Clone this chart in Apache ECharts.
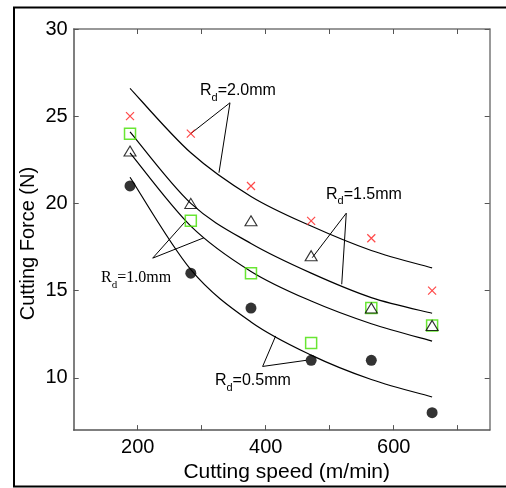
<!DOCTYPE html>
<html><head><meta charset="utf-8">
<script src="https://cdn.jsdelivr.net/npm/echarts@6/dist/echarts.min.js"></script>
<style>html,body{margin:0;padding:0;background:#fff}#c{width:506px;height:488px}</style>
</head><body><div id="c"></div>
<script>
// ---- data ----
const speeds = [188, 283, 377, 471, 565, 660];
// measured cutting forces (N)
const rd20 = [25, 24, 21, 19, 18, 15];   // red crosses
const rd15 = [23, 20, 19, 17, 14, 13];   // triangles
const rd10 = [24, 19, 16, 12, 14, 13];   // green squares
const rd05 = [21, 16, 14, 11, 11, 8];    // black dots
// fitted curves at the same speeds
const fit20 = [26.6, 22.9, 20.4, 18.7, 17.3, 16.3];
const fit15 = [24.1, 20.0, 17.7, 16.0, 14.6, 13.7];
const fit10 = [22.9, 18.7, 16.1, 14.4, 13.1, 12.1];
const fit05 = [21.5, 16.2, 13.2, 11.3, 9.9, 8.9];
// axis ticks
const xTicks = [200, 300, 400, 500, 600, 700];
const xLabels = [200, 400, 600];
const yTicks = [10, 15, 20, 25, 30];
// annotation leader lines (data coordinates: end, apex, end)
const lead20 = [[282.8, 24.0], [344.2, 25.77], [327.0, 21.76]];
const lead15 = [[472.8, 16.89], [525.9, 19.44], [518.8, 15.36]];
const lead10 = [[273.9, 18.94], [223.4, 16.86], [303.6, 18.03]];
const lead05 = [[415.6, 12.40], [395.2, 10.65], [463.0, 11.0]];
// annotation labels (anchor = left baseline, data coordinates)
const notes = [
  {value: '=2.0mm', at: [297.3, 26.14], family: 'Liberation Sans'},
  {value: '=1.5mm', at: [494.2, 20.21], family: 'Liberation Sans'},
  {value: '=1.0mm', at: [142.7, 15.41], family: 'Liberation Serif'},
  {value: '=0.5mm', at: [320.7, 9.51], family: 'Liberation Sans'}
];

const SANS = 'Liberation Sans';
const pair = (xs, ys) => xs.map((x, i) => [x, ys[i]]);
const chart = echarts.init(document.getElementById('c'), null, {renderer: 'canvas'});

const axisCol = '#555';
function xAx(pos, primary) {
  return {
    type: 'value', min: 100, max: 750, position: pos,
    axisLine: {onZero: false, lineStyle: {color: primary ? axisCol : '#777', width: 1.5}},
    axisTick: {show: true, inside: true, length: 5, customValues: xTicks, lineStyle: {color: axisCol, width: 1}},
    axisLabel: primary ? {customValues: xLabels, color: '#000', fontSize: 20, fontFamily: SANS, margin: 7} : {show: false},
    splitLine: {show: false},
    name: primary ? 'Cutting speed (m/min)' : '',
    nameLocation: 'middle', nameGap: 28,
    nameTextStyle: {color: '#000', fontSize: 21, fontFamily: SANS, padding: [0, 0, 0, 10]}
  };
}
function yAx(pos, primary) {
  return {
    type: 'value', min: 7, max: 30, position: pos,
    axisLine: {onZero: false, lineStyle: {color: primary ? axisCol : '#777', width: 1.5}},
    axisTick: {show: true, inside: true, length: 5, customValues: yTicks, lineStyle: {color: axisCol, width: 1}},
    axisLabel: primary ? {customValues: yTicks, color: '#000', fontSize: 20, fontFamily: SANS, margin: 6} : {show: false},
    splitLine: {show: false},
    name: primary ? 'Cutting Force (N)' : '',
    nameLocation: 'middle', nameGap: 35, nameMoveOverlap: false,
    nameTextStyle: {color: '#000', fontSize: 20, fontFamily: SANS, padding: [0, 28, 0, 0]}
  };
}
// fitted curve drawn as a smooth spline through the read points, via the axes' scales
function fitCurve(vals) {
  const pts = pair(speeds, vals);
  return {
    type: 'custom', coordinateSystem: 'cartesian2d', xAxisIndex: 0, yAxisIndex: 0,
    data: pts, encode: {x: 0, y: 1}, silent: true, z: 2,
    renderItem: function (params, api) {
      if (params.dataIndex !== 0) return null;
      const P = pts.map(p => api.coord(p));
      let d = 'M' + P[0][0] + ',' + P[0][1];
      for (let i = 0; i < P.length - 1; i++) {
        const p0 = P[Math.max(i - 1, 0)], p1 = P[i], p2 = P[i + 1], p3 = P[Math.min(i + 2, P.length - 1)];
        const c1 = [p1[0] + (p2[0] - p0[0]) / 6, p1[1] + (p2[1] - p0[1]) / 6];
        const c2 = [p2[0] - (p3[0] - p1[0]) / 6, p2[1] - (p3[1] - p1[1]) / 6];
        d += ' C' + c1[0] + ',' + c1[1] + ' ' + c2[0] + ',' + c2[1] + ' ' + p2[0] + ',' + p2[1];
      }
      return {type: 'path', shape: {pathData: d}, style: {stroke: '#000', fill: 'none', lineWidth: 1.2}};
    }
  };
}
const leadLine = (d) => ({
  type: 'line', data: d, showSymbol: false, symbol: 'none', smooth: false,
  lineStyle: {color: '#000', width: 1}, z: 2, silent: true
});

chart.setOption({
  animation: false,
  backgroundColor: '#fff',
  grid: {left: 73.7, top: 29, right: 16.3, bottom: 51.6, containLabel: false},
  xAxis: [xAx('bottom', true), xAx('top', false)],
  yAxis: [yAx('left', true), yAx('right', false)],
  series: [
    fitCurve(fit20), fitCurve(fit15), fitCurve(fit10), fitCurve(fit05),
    leadLine(lead20), leadLine(lead15), leadLine(lead10), leadLine(lead05),
    {type: 'scatter', data: pair(speeds, rd10), symbol: 'rect', symbolSize: 11,
     itemStyle: {color: 'rgba(0,0,0,0)', borderColor: '#44e000', borderWidth: 1.5}, z: 3},
    {type: 'scatter', data: pair(speeds, rd15), symbol: 'triangle', symbolSize: [12, 10],
     itemStyle: {color: 'rgba(0,0,0,0)', borderColor: '#000', borderWidth: 1.1}, z: 4},
    {type: 'scatter', data: pair(speeds, rd20), symbol: 'path://M0,0L10,10M10,0L0,10', symbolSize: 8,
     itemStyle: {color: 'rgba(0,0,0,0)', borderColor: '#ff1a1a', borderWidth: 1.2}, z: 4},
    {type: 'scatter', data: pair(speeds, rd05), symbol: 'circle', symbolSize: 11,
     itemStyle: {color: '#000'}, z: 4}
  ]
});

// annotation labels with subscript d
const ctx = document.createElement('canvas').getContext('2d');
function tw(t, size, fam) { ctx.font = size + 'px "' + fam + '"'; return ctx.measureText(t).width; }
const MAIN = 16, SUB = 11;
const elems = [{
  type: 'rect', shape: {x: 14, y: 7.5, width: 600, height: 479},
  style: {fill: 'none', stroke: '#000', lineWidth: 2}, silent: true, z: 100
}];
notes.forEach(n => {
  const p = chart.convertToPixel({gridIndex: 0}, n.at);
  const bx = p[0], by = p[1];
  const midMain = by - 0.35 * MAIN;
  const wR = tw('R', MAIN, n.family), wd = tw('d', SUB, n.family);
  elems.push({type: 'text', x: bx, y: midMain, silent: true, z: 50,
    style: {text: 'R', fontSize: MAIN, fontFamily: n.family, fill: '#000', verticalAlign: 'middle', align: 'left'}});
  elems.push({type: 'text', x: bx + wR, y: by + 5.4 - 0.35 * SUB, silent: true, z: 50,
    style: {text: 'd', fontSize: SUB, fontFamily: n.family, fill: '#000', verticalAlign: 'middle', align: 'left'}});
  elems.push({type: 'text', x: bx + wR + wd, y: midMain, silent: true, z: 50,
    style: {text: n.value, fontSize: MAIN, fontFamily: n.family, fill: '#000', verticalAlign: 'middle', align: 'left'}});
});
chart.setOption({graphic: elems});
</script>
</body></html>
